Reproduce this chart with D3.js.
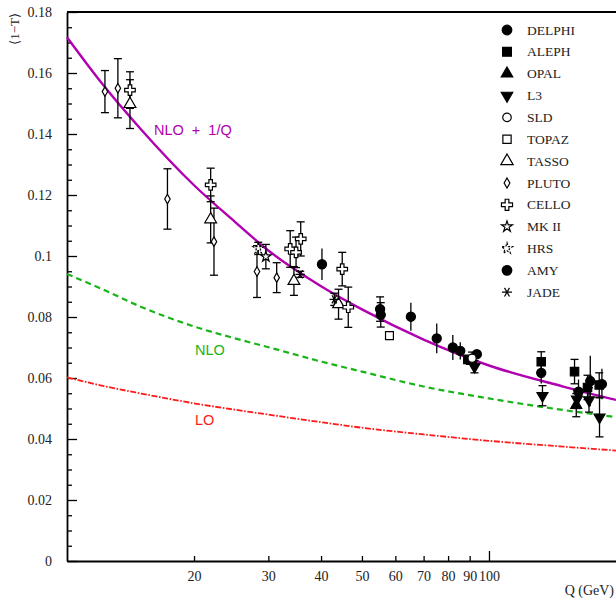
<!DOCTYPE html>
<html><head><meta charset="utf-8">
<script src="https://cdn.jsdelivr.net/npm/d3@7"></script>
<style>body{margin:0;background:#fff}svg{display:block}</style>
</head><body><svg id="c" width="616" height="602"></svg>
<script>
// ---------- data ----------
const xTickValues = [20, 30, 40, 50, 60, 70, 80, 90, 100];
const yTickLabels = ["0", "0.02", "0.04", "0.06", "0.08", "0.1", "0.12", "0.14", "0.16", "0.18"];

const curveQ        = [10, 12, 15, 20, 25, 30, 40, 50, 70, 100, 150, 200];
const nloPowerVals  = [0.1717, 0.1572, 0.1414, 0.1232, 0.1112, 0.1018, 0.0901, 0.0825, 0.0726, 0.0641, 0.0572, 0.0528];
const nloVals       = [0.0941, 0.0894, 0.0833, 0.0769, 0.0730, 0.0701, 0.0654, 0.0621, 0.0572, 0.0533, 0.0495, 0.0472];
const loVals        = [0.0602, 0.0576, 0.0549, 0.0517, 0.0496, 0.0480, 0.0455, 0.0437, 0.0415, 0.0394, 0.0375, 0.0362];

const experiments = ["DELPHI","ALEPH","OPAL","L3","SLD","TOPAZ","TASSO","PLUTO","CELLO","MK II","HRS","AMY","JADE"];

const delphiQ = [40.2, 65.3, 75.2, 82.1, 85.5, 93.6, 133.0, 163.0, 173.8, 185.2];
const delphiV = [0.0973, 0.0801, 0.0730, 0.0700, 0.0689, 0.0678, 0.0617, 0.0555, 0.0590, 0.0580];
const delphiE = [0.0052, 0.0046, 0.0049, 0.0041, 0.0028, 0.0010, 0.0035, 0.0040, 0.0083, 0.0050];

const alephQ = [89.1, 133.0, 159.5, 171.2, 182.5];
const alephV = [0.0661, 0.0653, 0.0621, 0.0569, 0.0577];
const alephE = [0.0010, 0.0033, 0.0040, 0.0040, 0.0040];

const opalQ = [91.2, 161.0];
const opalV = [0.0655, 0.0511];
const opalE = [0.0010, 0.0038];

const l3Q = [92.4, 133.9, 161.6, 172.6, 182.8];
const l3V = [0.0637, 0.0542, 0.0530, 0.0528, 0.0471];
const l3E = [0.0020, 0.0033, 0.0030, 0.0040, 0.0064];

const sldQ = [91.2];
const sldV = [0.0665];
const sldE = [0.0020];

const topazQ = [58.1];
const topazV = [0.0739];
const topazE = [0.0];

const tassoQ = [14.1, 21.9, 34.5, 44.0];
const tassoV = [0.1498, 0.1120, 0.0918, 0.0842];
const tassoE = [0.0080, 0.0077, 0.0047, 0.0049];

const plutoQ = [12.3, 13.2, 17.3, 22.3, 28.2, 31.4];
const plutoV = [0.1539, 0.1550, 0.1187, 0.1047, 0.0949, 0.0929];
const plutoE = [0.0069, 0.0097, 0.0099, 0.0110, 0.0085, 0.0049];

const celloQ = [14.1, 21.9, 33.8, 34.9, 35.8, 44.9, 46.4];
const celloV = [0.1544, 0.1233, 0.1023, 0.1012, 0.1056, 0.0957, 0.0832];
const celloE = [0.0060, 0.0055, 0.0060, 0.0050, 0.0056, 0.0055, 0.0066];

const mk2Q = [29.6];
const mk2V = [0.0998];
const mk2E = [0.0040];

const hrsQ = [28.4];
const hrsV = [0.1025];
const hrsE = [0.0020];

const amyQ = [55.2, 55.4];
const amyV = [0.0826, 0.0807];
const amyE = [0.0040, 0.0040];

const jadeQ = [35.7, 43.0];
const jadeV = [0.0940, 0.0858];
const jadeE = [0.0010, 0.0020];

// ---------- build ----------
const svg = d3.select("#c");
const x = d3.scaleLog().domain([10, 200]).range([67, 616]);
const y = d3.scaleLinear().domain([0, 0.18]).range([561, 12]);

const serif = "'Liberation Serif','Times New Roman',serif";
const sans = "'Liberation Sans',Arial,sans-serif";

// symbols
const symAsterisk = {draw(ctx, size){const r=Math.sqrt(size)/2; const a=r*0.5,b=r*0.866;
  ctx.moveTo(-r,0);ctx.lineTo(r,0);ctx.moveTo(-a,-b);ctx.lineTo(a,b);ctx.moveTo(a,-b);ctx.lineTo(-a,b);}};
const symStyle = {
  "DELPHI":{type:d3.symbolCircle,size:66,fill:"#000"},
  "ALEPH":{type:d3.symbolSquare,size:70,fill:"#000"},
  "OPAL":{type:d3.symbolTriangle,size:52,fill:"#000"},
  "L3":{type:d3.symbolTriangle,size:52,fill:"#000",rot:180},
  "SLD":{type:d3.symbolCircle,size:52,fill:"#fff"},
  "TOPAZ":{type:d3.symbolSquare,size:62,fill:"#fff"},
  "TASSO":{type:d3.symbolTriangle,size:60,fill:"#fff"},
  "PLUTO":{type:d3.symbolDiamond,size:26,fill:"#fff"},
  "CELLO":{type:d3.symbolCross,size:62,fill:"#fff"},
  "MK II":{type:d3.symbolStar,size:34,fill:"#fff"},
  "HRS":{type:d3.symbolStar,size:34,fill:"#fff",dash:"2.2,1.6"},
  "AMY":{type:d3.symbolCircle,size:66,fill:"#000"},
  "JADE":{type:symAsterisk,size:90,fill:"none"}
};
const seriesData = {
  "DELPHI":[delphiQ,delphiV,delphiE,false],
  "ALEPH":[alephQ,alephV,alephE,true],
  "OPAL":[opalQ,opalV,opalE,true],
  "L3":[l3Q,l3V,l3E,true],
  "SLD":[sldQ,sldV,sldE,true],
  "TOPAZ":[topazQ,topazV,topazE,true],
  "TASSO":[tassoQ,tassoV,tassoE,true],
  "PLUTO":[plutoQ,plutoV,plutoE,true],
  "CELLO":[celloQ,celloV,celloE,true],
  "MK II":[mk2Q,mk2V,mk2E,true],
  "HRS":[hrsQ,hrsV,hrsE,true],
  "AMY":[amyQ,amyV,amyE,true],
  "JADE":[jadeQ,jadeV,jadeE,true]
};

// axes
const yTicks = d3.range(0, 37).map(i => +(i*0.005).toFixed(3));
const yAxis = d3.axisLeft(y).tickValues(yTicks).tickSizeInner(-5).tickSizeOuter(0).tickPadding(15)
  .tickFormat(d => { const i = Math.round(d/0.02*1000)/1000; return Number.isInteger(i) ? yTickLabels[i] : ""; });
const gy = svg.append("g").attr("transform","translate(67,0)").call(yAxis);
gy.selectAll(".tick line").attr("x2", d => (Math.abs(d/0.02 - Math.round(d/0.02))<1e-6) ? 10 : 5).attr("stroke-width",1.3);
gy.selectAll("text").attr("font-family",serif).attr("font-size",14).attr("fill","#222");
gy.select(".domain").attr("stroke-width",1.8);

const xAxis = d3.axisBottom(x).tickValues(xTickValues).tickSizeInner(-5).tickSizeOuter(0).tickPadding(10)
  .tickFormat(d3.format("d"));
const gx = svg.append("g").attr("transform","translate(0,561)").call(xAxis);
gx.selectAll(".tick line").attr("y2", d => d===100 ? -10 : -5).attr("stroke-width",1.3);
gx.selectAll("text").attr("font-family",serif).attr("font-size",14).attr("fill","#222");
gx.select(".domain").attr("stroke-width",1.8);

// frame top
svg.append("line").attr("x1",67).attr("x2",616).attr("y1",12).attr("y2",12).attr("stroke","#000").attr("stroke-width",1.8);

// axis titles
svg.append("text").attr("transform","translate(19,13) rotate(-90)").attr("text-anchor","end")
  .attr("font-family",serif).attr("font-size",13).attr("fill","#222").text("⟨1−T⟩");
svg.append("text").attr("x",614).attr("y",595).attr("text-anchor","end")
  .attr("font-family",serif).attr("font-size",14).attr("fill","#222").text("Q (GeV)");

// curves
const line = d3.line().x(d=>x(d[0])).y(d=>y(d[1])).curve(d3.curveMonotoneX);
svg.append("path").attr("d", line(curveQ.map((q,i)=>[q,loVals[i]]))).attr("fill","none")
  .attr("stroke","#ff1a1a").attr("stroke-width",1.8).attr("stroke-dasharray","6,1.6,1.6,1.6");
svg.append("path").attr("d", line(curveQ.map((q,i)=>[q,nloVals[i]]))).attr("fill","none")
  .attr("stroke","#19b419").attr("stroke-width",2.2).attr("stroke-dasharray","6,4");
svg.append("path").attr("d", line(curveQ.map((q,i)=>[q,nloPowerVals[i]]))).attr("fill","none")
  .attr("stroke","#b000b0").attr("stroke-width",2.4);

// curve labels
svg.append("text").attr("x",154).attr("y",134.5).attr("font-family",sans).attr("font-size",14.5)
  .attr("word-spacing","4px").attr("fill","#b000b0").text("NLO + 1/Q");
svg.append("text").attr("x",195).attr("y",355).attr("font-family",sans).attr("font-size",14.5)
  .attr("fill","#19b419").text("NLO");
svg.append("text").attr("x",195).attr("y",425).attr("font-family",sans).attr("font-size",14.5)
  .attr("fill","#ff1a1a").text("LO");

// data: error bars then markers
const pts = svg.append("g");
experiments.forEach(name => {
  const [qs, vs, es, cap] = seriesData[name];
  const st = symStyle[name];
  qs.forEach((q,i) => {
    const cx = x(q), v = vs[i], e = es[i];
    if (e > 0) {
      pts.append("line").attr("x1",cx).attr("x2",cx).attr("y1",y(v-e)).attr("y2",y(v+e))
        .attr("stroke","#000").attr("stroke-width",1.3);
      if (cap) [v-e, v+e].forEach(yy => pts.append("line").attr("x1",cx-4).attr("x2",cx+4)
        .attr("y1",y(yy)).attr("y2",y(yy)).attr("stroke","#000").attr("stroke-width",1.3));
    }
  });
});
experiments.forEach(name => {
  const [qs, vs] = seriesData[name];
  const st = symStyle[name];
  qs.forEach((q,i) => {
    pts.append("path").attr("d", d3.symbol(st.type, st.size)())
      .attr("transform", `translate(${x(q)},${y(vs[i])})` + (st.rot ? ` rotate(${st.rot})` : ""))
      .attr("fill", st.fill).attr("stroke","#000").attr("stroke-width",1.2)
      .attr("stroke-dasharray", st.dash || null);
  });
});

// legend
const leg = svg.append("g");
experiments.forEach((name,i) => {
  const ly = 30 + i*21.85;
  const st = symStyle[name];
  leg.append("path").attr("d", d3.symbol(st.type, st.size*1.1)())
    .attr("transform", `translate(507,${ly})` + (st.rot ? ` rotate(${st.rot})` : ""))
    .attr("fill", st.fill).attr("stroke","#000").attr("stroke-width",1.2)
    .attr("stroke-dasharray", st.dash || null);
  leg.append("text").attr("x",527).attr("y",ly+4.6).attr("font-family",serif).attr("font-size",13.5)
    .attr("fill","#222").text(name);
});
</script>
</body></html>
